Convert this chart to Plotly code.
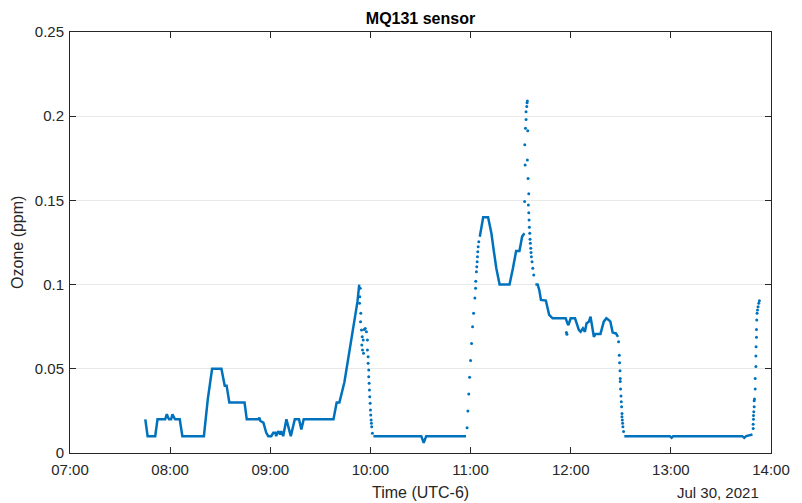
import pandas as pd
import plotly.graph_objects as go

DAY = "2021-07-30"

# ---- data (time in decimal hours of the day, ozone in ppm) ----
# solid segments (dense sampling)
seg1_t = [7.752, 7.775, 7.851, 7.874, 7.950, 7.967, 7.980, 7.990, 8.010, 8.023, 8.040, 8.050,
          8.096, 8.122, 8.337, 8.376, 8.419, 8.512, 8.545, 8.564, 8.591, 8.743, 8.765, 8.881,
          8.891, 8.901, 8.931, 8.960, 8.980, 9.010, 9.030, 9.050, 9.059, 9.079, 9.099, 9.109,
          9.129, 9.161, 9.205, 9.245, 9.287, 9.310, 9.334, 9.631, 9.663, 9.690, 9.740, 9.789,
          9.839, 9.871, 9.888]
seg1_v = [0.020, 0.010, 0.010, 0.020, 0.020, 0.023, 0.021, 0.020, 0.020, 0.023, 0.021, 0.020,
          0.020, 0.010, 0.010, 0.032, 0.050, 0.050, 0.040, 0.040, 0.030, 0.030, 0.020, 0.020,
          0.021, 0.019, 0.018, 0.012, 0.010, 0.010, 0.012, 0.012, 0.010, 0.013, 0.011, 0.013,
          0.010, 0.020, 0.010, 0.020, 0.020, 0.014, 0.020, 0.020, 0.030, 0.030, 0.042, 0.060,
          0.080, 0.090, 0.100]

seg2_t = [10.030, 10.508, 10.532, 10.557, 10.955]
seg2_v = [0.010, 0.010, 0.006, 0.010, 0.010]

seg3_t = [11.092, 11.109, 11.126, 11.175, 11.208, 11.231, 11.257, 11.290, 11.389, 11.423,
          11.455, 11.488, 11.515, 11.538]
seg3_v = [0.1284, 0.1344, 0.140, 0.140, 0.1305, 0.1205, 0.1097, 0.100, 0.100, 0.1097,
          0.120, 0.120, 0.1285, 0.1305]

seg4_t = [11.647, 11.670, 11.686, 11.703, 11.752, 11.785, 11.819, 11.950, 11.967, 11.977,
          12.000, 12.043, 12.082, 12.099, 12.122, 12.142, 12.158, 12.181, 12.198, 12.215,
          12.231, 12.248, 12.297, 12.330, 12.356, 12.379, 12.396, 12.419, 12.452, 12.472]
seg4_v = [0.100, 0.100, 0.0968, 0.0909, 0.0905, 0.082, 0.080, 0.080, 0.077, 0.076,
          0.080, 0.080, 0.073, 0.072, 0.074, 0.072, 0.077, 0.078, 0.081, 0.075,
          0.069, 0.0707, 0.0707, 0.078, 0.080, 0.079, 0.078, 0.0715, 0.071, 0.069]

seg5_t = [12.535, 12.990, 13.007, 13.023, 13.713, 13.733, 13.752, 13.815]
seg5_v = [0.010, 0.010, 0.009, 0.010, 0.010, 0.009, 0.010, 0.011]

# sparse samples during fast changes
dot_t = [9.898, 9.894, 9.891, 9.904, 9.901, 9.911, 9.938, 9.948, 9.960, 9.918, 9.928, 9.914,
         9.921, 9.931, 9.970, 9.970, 9.977, 9.977, 9.983, 9.983, 9.987, 9.990, 9.993, 9.997,
         10.000, 10.003, 10.007, 10.010, 10.013, 10.020,
         10.965, 10.973, 10.982, 10.990, 11.000, 11.010, 11.020, 11.030, 11.043, 11.050,
         11.052, 11.058, 11.062, 11.066, 11.069, 11.072, 11.076, 11.082,
         11.540, 11.545, 11.541, 11.548, 11.554, 11.554, 11.561, 11.564, 11.567, 11.571,
         11.567, 11.574, 11.581, 11.577, 11.581, 11.584, 11.587, 11.591, 11.594, 11.597,
         11.601, 11.604, 11.607, 11.614, 11.621, 11.631,
         11.957, 11.962,
         12.478, 12.485, 12.488, 12.492, 12.495, 12.495, 12.498, 12.502, 12.505, 12.508,
         12.512, 12.512, 12.515, 12.518, 12.521, 12.528,
         13.822, 13.822, 13.825, 13.825, 13.828, 13.832, 13.832, 13.835, 13.842, 13.842,
         13.849, 13.849, 13.851, 13.855, 13.855, 13.858, 13.861, 13.865, 13.871, 13.878,
         13.884]
dot_v = [0.0978, 0.0928, 0.0889, 0.0830, 0.0780, 0.0730, 0.0734, 0.0740, 0.0720, 0.0691,
         0.0671, 0.0641, 0.0612, 0.0592, 0.0671, 0.0612, 0.0572, 0.0533, 0.0493, 0.0453,
         0.0414, 0.0374, 0.0334, 0.0295, 0.0255, 0.0226, 0.0196, 0.0176, 0.0156, 0.0117,
         0.015, 0.025, 0.035, 0.045, 0.055, 0.065, 0.075, 0.083, 0.092, 0.0978,
         0.102, 0.1077, 0.1106, 0.1136, 0.1166, 0.1195, 0.1225, 0.1255,
         0.1493, 0.171, 0.183, 0.1928, 0.198, 0.2027, 0.2057, 0.208, 0.209, 0.1914,
         0.174, 0.163, 0.154, 0.1473, 0.1427, 0.1384, 0.134, 0.1305, 0.1269, 0.1245,
         0.1216, 0.119, 0.1166, 0.1136, 0.1097, 0.1057,
         0.0715, 0.0705,
         0.066, 0.058, 0.0536, 0.0489, 0.0443, 0.0424, 0.038, 0.0338, 0.0305, 0.0275,
         0.0235, 0.0216, 0.0196, 0.0176, 0.0156, 0.0127,
         0.0146, 0.017, 0.020, 0.0222, 0.0245, 0.0275, 0.031, 0.032, 0.038, 0.0443,
         0.0513, 0.0576, 0.0631, 0.0687, 0.0734, 0.079, 0.083, 0.0849, 0.0869, 0.0889,
         0.0904]

y_ticks = [0, 0.05, 0.1, 0.15, 0.2, 0.25]
y_ticktext = ["0", "0.05", "0.1", "0.15", "0.2", "0.25"]

BLUE = "#0072BD"
AX = "#262626"
FONT = "Liberation Sans, Arial, sans-serif"


def to_dt(hours):
    return pd.Timestamp(DAY) + pd.to_timedelta(pd.Series(hours), unit="h")


line_t, line_v = [], []
for st, sv in [(seg1_t, seg1_v), (seg2_t, seg2_v), (seg3_t, seg3_v), (seg4_t, seg4_v), (seg5_t, seg5_v)]:
    line_t += list(to_dt(st)) + [None]
    line_v += list(sv) + [None]

fig = go.Figure()
fig.add_trace(go.Scatter(x=line_t, y=line_v, mode="lines",
                         line=dict(color=BLUE, width=2.5), connectgaps=False,
                         showlegend=False, hoverinfo="skip"))
fig.add_trace(go.Scatter(x=list(to_dt(dot_t)), y=dot_v, mode="markers",
                         marker=dict(color=BLUE, size=3), showlegend=False))

fig.update_layout(
    width=802, height=503,
    margin=dict(l=70, r=25, t=32, b=50),
    paper_bgcolor="white", plot_bgcolor="white",
    font=dict(family=FONT, size=15, color=AX),
    title=dict(text="<b>MQ131 sensor</b>", x=0.5, xref="paper", y=1 - 18 / 503,
               yref="container", yanchor="middle", xanchor="center",
               font=dict(family=FONT, size=16, color="black")),
)
fig.update_xaxes(
    type="date",
    range=[pd.Timestamp(DAY + " 07:00"), pd.Timestamp(DAY + " 14:00")],
    tickformat="%H:%M", dtick=3600000,
    tick0=pd.Timestamp(DAY + " 07:00"),
    showgrid=False, zeroline=False,
    showline=True, linecolor=AX, linewidth=1, mirror="ticks",
    ticks="inside", ticklen=6, tickcolor=AX,
    ticklabelstandoff=3,
    tickfont=dict(size=15, color=AX),
)
fig.update_yaxes(
    range=[0, 0.25], tickvals=y_ticks, ticktext=y_ticktext,
    showgrid=True, gridcolor="#e8e8e8", gridwidth=1, zeroline=False,
    showline=True, linecolor=AX, linewidth=1, mirror="ticks",
    ticks="inside", ticklen=6, tickcolor=AX,
    ticklabelstandoff=2,
    tickfont=dict(size=15, color=AX),
)
fig.add_annotation(text="Time (UTC-6)", xref="paper", yref="paper",
                   x=0.5, y=-39 / 421, xanchor="center", yanchor="middle",
                   showarrow=False, font=dict(size=16, color=AX))
fig.add_annotation(text="Jul 30, 2021", xref="paper", yref="paper",
                   x=(767 - 70) / 707, y=-39 / 421, xanchor="right", yanchor="middle",
                   showarrow=False, font=dict(size=15, color=AX))
fig.add_annotation(text="Ozone (ppm)", xref="paper", yref="paper",
                   x=(17 - 70) / 707, y=0.5, xanchor="center", yanchor="middle",
                   textangle=-90, showarrow=False, font=dict(size=16, color=AX))

fig.write_html("out.html")
